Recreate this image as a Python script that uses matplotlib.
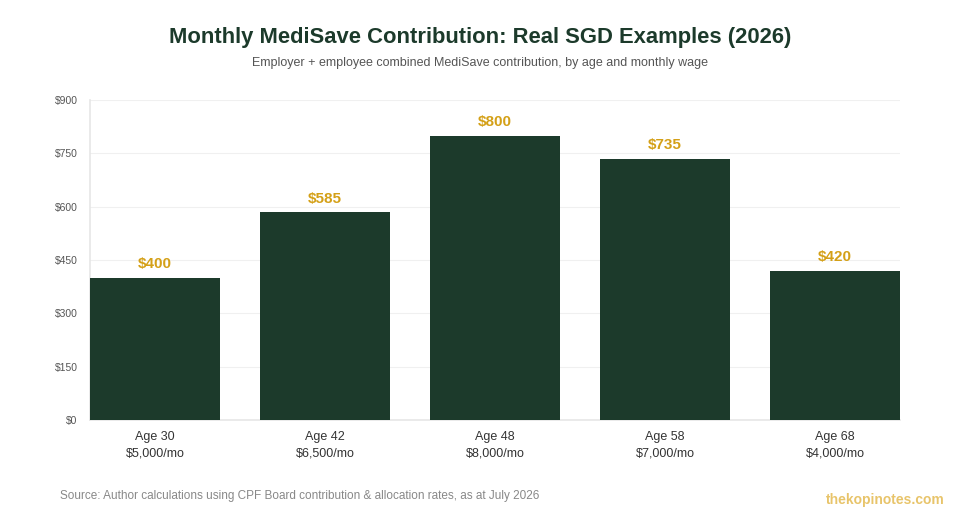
import matplotlib.pyplot as plt

plt.rcParams['font.family'] = ['Liberation Sans', 'DejaVu Sans']

ages = ['Age 30', 'Age 42', 'Age 48', 'Age 58', 'Age 68']
wages = ['$5,000/mo', '$6,500/mo', '$8,000/mo', '$7,000/mo', '$4,000/mo']
medisave = [400, 585, 800, 735, 420]
yticks = [0, 150, 300, 450, 600, 750, 900]

green = '#1c3a2b'
gold = '#d4a017'

fig = plt.figure(figsize=(9.6, 5.2), dpi=100)
ax = fig.add_axes([0.09375, 0.1923, 0.84375, 0.6154])

w = 0.765
x = range(len(ages))
bars = ax.bar(x, medisave, width=w, color=green, zorder=3)
for xi, v in zip(x, medisave):
    ax.text(xi, v + 18, f'${v}', ha='center', va='bottom', color=gold,
            fontsize=11, fontweight='bold')

ax.set_xlim(-w / 2, len(ages) - 1 + w / 2)
ax.set_ylim(0, 900)
ax.set_yticks(yticks)
ax.set_yticklabels([f'${t}' for t in yticks], fontsize=7.5, color='#555555')
ax.set_xticks(list(x))
ax.set_xticklabels([f'{a}\n{wg}' for a, wg in zip(ages, wages)],
                   fontsize=9, color='#333333', linespacing=1.5)
ax.tick_params(axis='both', length=0)
ax.tick_params(axis='y', pad=9)
ax.tick_params(axis='x', pad=8)

ax.grid(axis='y', color='#f0f0f0', linewidth=0.8, zorder=0)
for s in ['top', 'right']:
    ax.spines[s].set_visible(False)
ax.spines['left'].set_color('#e6e6e6')
ax.spines['bottom'].set_color('#e6e6e6')
ax.spines['left'].set_linewidth(1.2)
ax.spines['bottom'].set_linewidth(1.2)

fig.text(0.5, 0.928, 'Monthly MediSave Contribution: Real SGD Examples (2026)',
         ha='center', va='center', fontsize=15.8, fontweight='bold', color=green)
fig.text(0.5, 0.878, 'Employer + employee combined MediSave contribution, by age and monthly wage',
         ha='center', va='center', fontsize=9, color='#555555')
fig.text(0.0625, 0.046, 'Source: Author calculations using CPF Board contribution & allocation rates, as at July 2026',
         ha='left', va='center', fontsize=8.5, color='#888888')
fig.text(0.984, 0.038, 'thekopinotes.com', ha='right', va='center',
         fontsize=10, fontweight='bold', color='#e8c46a')

fig.savefig('out.png', dpi=100)
